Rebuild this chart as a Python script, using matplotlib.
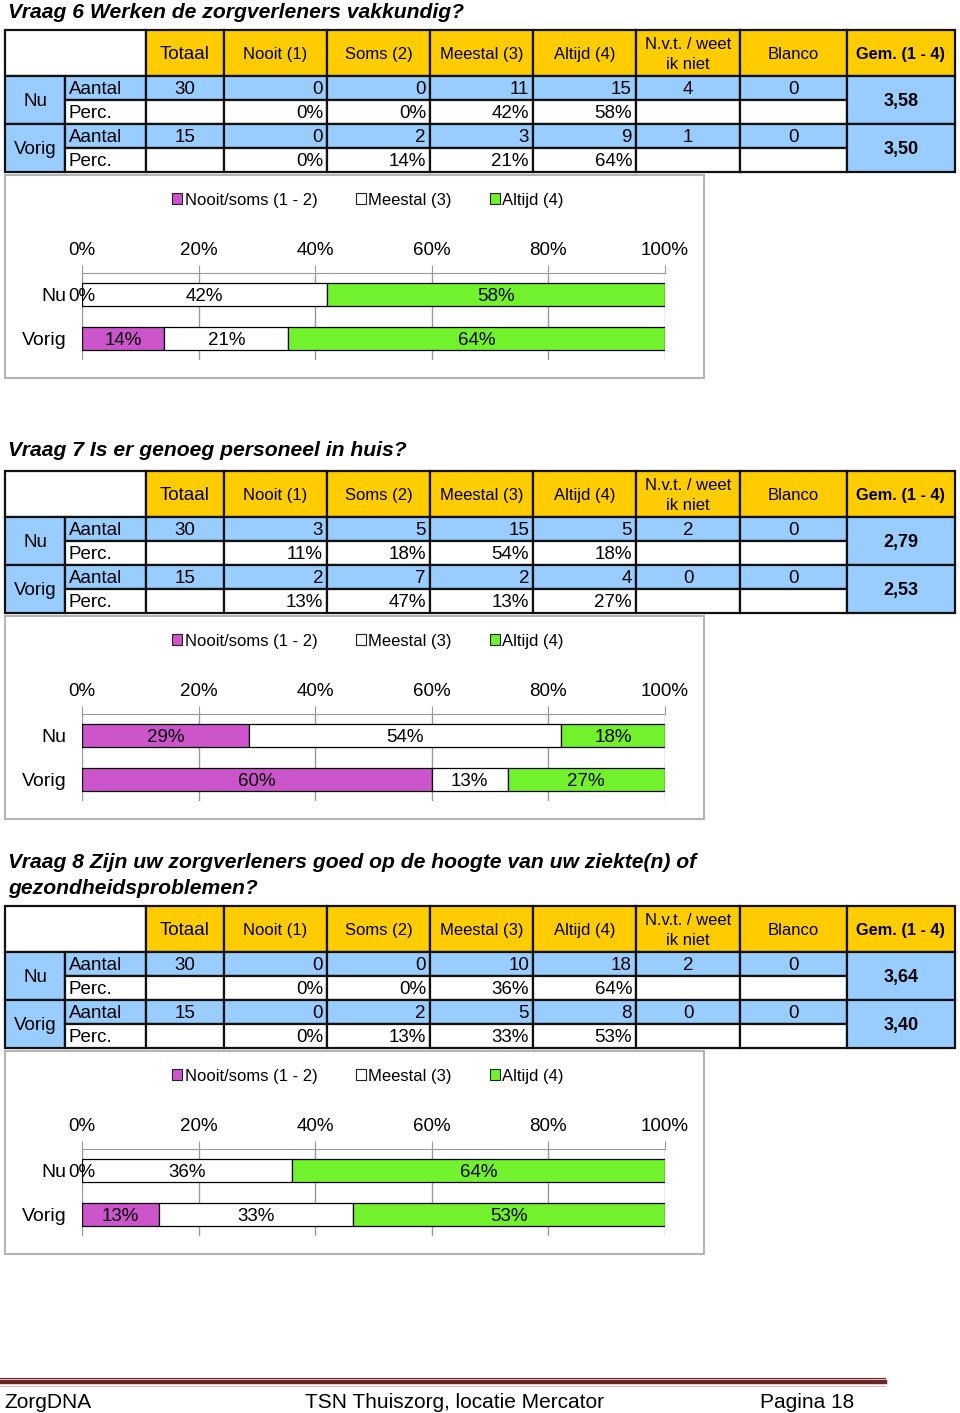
import matplotlib.pyplot as plt
from matplotlib.patches import Rectangle, Patch

plt.rcParams['font.family'] = 'Liberation Sans'

W, H = 960, 1413

col_headers = ['Totaal', 'Nooit (1)', 'Soms (2)', 'Meestal (3)', 'Altijd (4)',
               'N.v.t. / weet\nik niet', 'Blanco']
periods = ['Nu', 'Vorig']
legend_labels = ['Nooit/soms (1 - 2)', 'Meestal (3)', 'Altijd (4)']
ticks = [0, 20, 40, 60, 80, 100]

# Vraag 6
q6_title = ['Vraag 6 Werken de zorgverleners vakkundig?']
q6_aantal = [[30, 0, 0, 11, 15, 4, 0], [15, 0, 2, 3, 9, 1, 0]]
q6_perc = [[0, 0, 42, 58], [0, 14, 21, 64]]
q6_gem = ['3,58', '3,50']
q6_bars = [[0, 42, 58], [14, 21, 64]]

# Vraag 7
q7_title = ['Vraag 7 Is er genoeg personeel in huis?']
q7_aantal = [[30, 3, 5, 15, 5, 2, 0], [15, 2, 7, 2, 4, 0, 0]]
q7_perc = [[11, 18, 54, 18], [13, 47, 13, 27]]
q7_gem = ['2,79', '2,53']
q7_bars = [[29, 54, 18], [60, 13, 27]]

# Vraag 8
q8_title = ['Vraag 8 Zijn uw zorgverleners goed op de hoogte van uw ziekte(n) of',
            'gezondheidsproblemen?']
q8_aantal = [[30, 0, 0, 10, 18, 2, 0], [15, 0, 2, 5, 8, 0, 0]]
q8_perc = [[0, 0, 36, 64], [0, 13, 33, 53]]
q8_gem = ['3,64', '3,40']
q8_bars = [[0, 36, 64], [13, 33, 53]]

YELLOW = '#FFCC00'
BLUE = '#99CCFF'
MAGENTA = '#CC55CC'
GREEN = '#72F22C'
bar_colors = [MAGENTA, 'white', GREEN]

# table column edges (px)
xs = [5, 65, 146, 224, 327, 430, 533, 636, 740, 847, 955]

fig = plt.figure(figsize=(W / 100, H / 100), dpi=100)
ax = fig.add_axes([0, 0, 1, 1])
ax.set_xlim(0, W)
ax.set_ylim(H, 0)
ax.axis('off')


def cell(x0, x1, y0, y1, color):
    ax.add_patch(Rectangle((x0, y0), x1 - x0, y1 - y0, facecolor=color,
                           edgecolor='#111111', lw=1.6, zorder=1))


def txt(x, y, s, ha='center', **kw):
    kw.setdefault('fontsize', 13.5)
    ax.text(x, y + 1.5, s, ha=ha, va='center', **kw)


def draw_question(ty, dy, title, aantal, perc, gem, bars):
    for i, line in enumerate(title):
        ax.text(8, ty + 25 * i + 1, line, fontsize=15.2, fontweight='bold',
                style='italic', va='center', ha='left')

    # header
    top, hb = 30 + dy, 76 + dy
    cell(xs[0], xs[2], top, hb, 'white')
    for j, lab in enumerate(col_headers):
        cell(xs[j + 2], xs[j + 3], top, hb, YELLOW)
        fs = 13.5 if j == 0 else 12
        txt((xs[j + 2] + xs[j + 3]) / 2, (top + hb) / 2, lab,
            fontsize=fs, linespacing=1.45)
    cell(xs[9], xs[10], top, hb, YELLOW)
    txt((xs[9] + xs[10]) / 2, (top + hb) / 2, 'Gem. (1 - 4)', fontsize=11.8,
        fontweight='bold')

    rh = 24
    for p, name in enumerate(periods):
        ya = hb + 2 * rh * p
        yp = ya + rh
        cell(xs[0], xs[1], ya, yp + rh, BLUE)
        txt((xs[0] + xs[1]) / 2, yp, name)
        # Aantal row
        for c in range(1, 9):
            cell(xs[c], xs[c + 1], ya, yp, BLUE)
        txt(xs[1] + 4, ya + rh / 2, 'Aantal', ha='left')
        vals = aantal[p]
        txt((xs[2] + xs[3]) / 2, ya + rh / 2, str(vals[0]))
        for k in range(1, 5):
            txt(xs[k + 3] - 4, ya + rh / 2, str(vals[k]), ha='right')
        for k in range(5, 7):
            txt((xs[k + 2] + xs[k + 3]) / 2, ya + rh / 2, str(vals[k]))
        # Perc row
        for c in range(1, 9):
            cell(xs[c], xs[c + 1], yp, yp + rh, 'white')
        txt(xs[1] + 4, yp + rh / 2, 'Perc.', ha='left')
        for k in range(4):
            txt(xs[k + 4] - 4, yp + rh / 2, f'{perc[p][k]}%', ha='right')
        # Gem
        cell(xs[9], xs[10], ya, yp + rh, BLUE)
        txt((xs[9] + xs[10]) / 2, yp, gem[p], fontsize=13, fontweight='bold')

    # chart box
    ax.add_patch(Rectangle((5, 175 + dy), 699, 203, facecolor='none',
                           edgecolor='#b4b4b4', lw=1.5, zorder=1))

    cax = fig.add_axes([82 / W, 1 - (360 + dy) / H, 583 / W, 87 / H])
    cax.patch.set_alpha(0)
    for p in range(2):
        total = sum(bars[p])
        left = 0
        for k, v in enumerate(bars[p]):
            w = v / total * 100
            cax.barh(p, w, left=left, height=0.52, color=bar_colors[k],
                     edgecolor='black', lw=0.9, zorder=2)
            cax.text(left + w / 2, p + 0.04, f'{v}%', fontsize=13.5,
                     ha='center', va='center', zorder=3)
            left += w
    cax.set_xlim(0, 100)
    cax.set_ylim(1.49, -0.49)
    cax.set_xticks(ticks)
    cax.set_xticklabels([f'{t}%' for t in ticks])
    cax.xaxis.tick_top()
    cax.tick_params(axis='x', direction='out', length=6, color='#999999',
                    labelsize=13.5, pad=4)
    cax.set_yticks([0, 1])
    cax.set_yticklabels(periods)
    cax.tick_params(axis='y', length=0, labelsize=14, pad=11)
    cax.grid(axis='x', color='#999999', lw=1)
    cax.set_axisbelow(True)
    for s in ['bottom', 'left', 'right']:
        cax.spines[s].set_visible(False)
    cax.spines['top'].set_color('#999999')

    handles = [Patch(facecolor=c, edgecolor='#222222', lw=0.8) for c in bar_colors]
    fig.legend(handles, legend_labels, loc='center', ncol=3,
               bbox_to_anchor=(368 / W, 1 - (200 + dy) / H), frameon=False,
               fontsize=12, handlelength=0.6, handleheight=0.6,
               handletextpad=0.15, columnspacing=2.3)


draw_question(11, 0, q6_title, q6_aantal, q6_perc, q6_gem, q6_bars)
draw_question(450, 441, q7_title, q7_aantal, q7_perc, q7_gem, q7_bars)
draw_question(862, 876, q8_title, q8_aantal, q8_perc, q8_gem, q8_bars)

# footer
ax.plot([0, 885], [1378, 1378], color='#6B2427', lw=0.8)
ax.plot([0, 885], [1382, 1382], color='#6B2427', lw=3.2)
ax.plot([0, 885], [1385.5, 1385.5], color='#d9b8b8', lw=0.8)
ax.text(4, 1402, 'ZorgDNA', fontsize=15, ha='left', va='center')
ax.text(305, 1402, 'TSN Thuiszorg, locatie Mercator', fontsize=15, ha='left', va='center')
ax.text(760, 1402, 'Pagina 18', fontsize=15, ha='left', va='center')

fig.savefig('out.png', dpi=100)
